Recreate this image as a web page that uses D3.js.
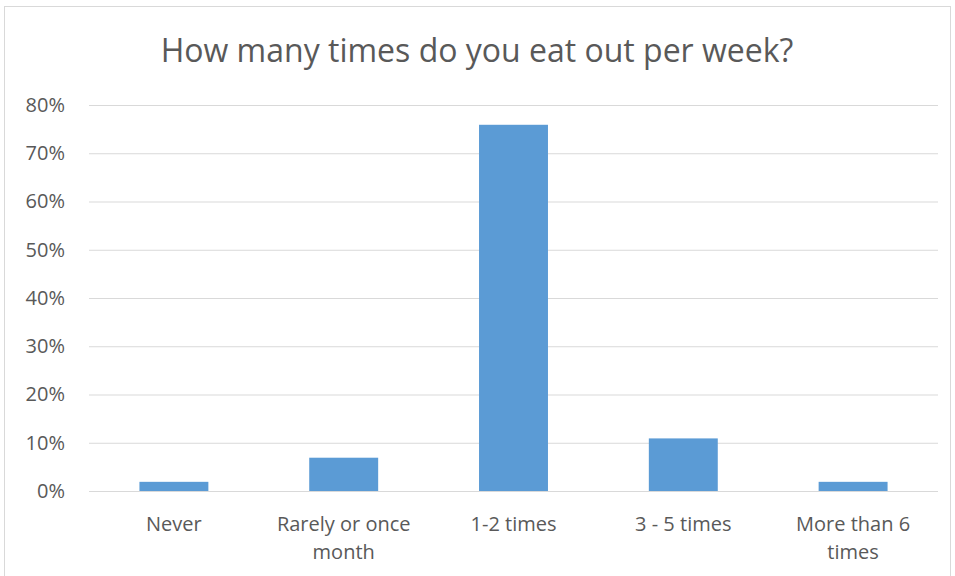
<!DOCTYPE html>
<html>
<head>
<meta charset="utf-8">
<script src="https://cdn.jsdelivr.net/npm/d3@7"></script>
<style>
  html, body { margin: 0; padding: 0; background: #fff; }
  svg { display: block; }
  text { font-family: "Open Sans", "Noto Sans", sans-serif; fill: #595959; }
</style>
</head>
<body>
<svg id="chart" width="955" height="576"></svg>
<script>
const titleText = "How many times do you eat out per week?";
const categories = ["Never", "Rarely or once month", "1-2 times", "3 - 5 times", "More than 6 times"];
const categoryLines = [["Never"], ["Rarely or once", "month"], ["1-2 times"], ["3 - 5 times"], ["More than 6", "times"]];
const values = [0.019, 0.069, 0.759, 0.109, 0.019];
const yTicks = [0, 0.1, 0.2, 0.3, 0.4, 0.5, 0.6, 0.7, 0.8];

const svg = d3.select("#chart");
const plot = { left: 89, right: 938, top: 105, bottom: 491 };

// outer border
svg.append("rect")
  .attr("x", 4.5).attr("y", 6.5)
  .attr("width", 946).attr("height", 580)
  .attr("fill", "#fff").attr("stroke", "#D9D9D9").attr("stroke-width", 1);

const x = d3.scaleBand().domain(categories).range([plot.left, plot.right]).paddingInner(0.594).paddingOuter(0.297);
const y = d3.scaleLinear().domain([0, 0.8]).range([plot.bottom, plot.top]);

// gridlines + tick labels
const yAxis = d3.axisLeft(y).tickValues(yTicks).tickFormat(d3.format(".0%"))
  .tickSize(-(plot.right - plot.left)).tickPadding(24);
const gy = svg.append("g").attr("transform", `translate(${plot.left},0)`).call(yAxis);
gy.select(".domain").remove();
gy.selectAll(".tick line").attr("stroke", "#D9D9D9").attr("stroke-width", 1);
gy.selectAll(".tick text").attr("font-size", 20).attr("fill", "#595959")
  .style("font-family", '"Open Sans", sans-serif');

// bars
svg.append("g").selectAll("rect").data(values).join("rect")
  .attr("x", (d, i) => x(categories[i]))
  .attr("width", x.bandwidth())
  .attr("y", d => y(d))
  .attr("height", d => y(0) - y(d))
  .attr("fill", "#5B9BD5");

// x labels
const xl = svg.append("g");
categories.forEach((c, i) => {
  const cx = x(c) + x.bandwidth() / 2;
  const t = xl.append("text").attr("text-anchor", "middle").attr("font-size", 20);
  categoryLines[i].forEach((line, j) => {
    t.append("tspan").attr("x", cx).attr("y", 531 + j * 28).text(line);
  });
});

// title
svg.append("text")
  .attr("x", 477).attr("y", 62)
  .attr("text-anchor", "middle")
  .attr("font-size", 32)
  .text(titleText);
</script>
</body>
</html>
